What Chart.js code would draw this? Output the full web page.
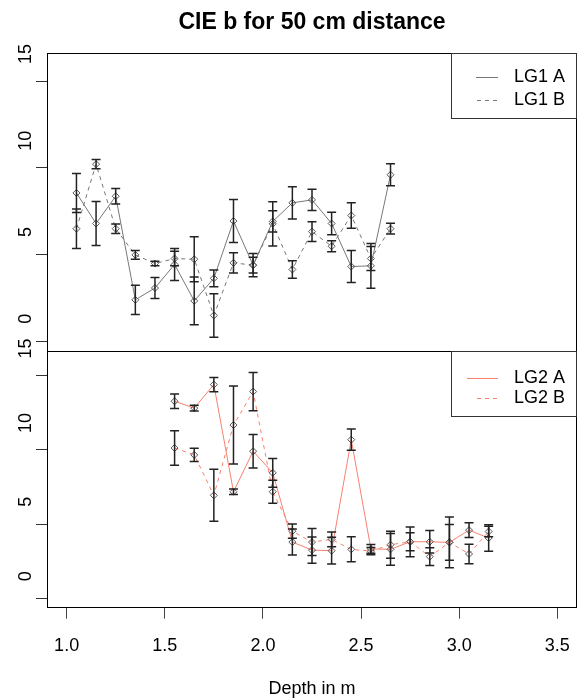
<!DOCTYPE html>
<html>
<head>
<meta charset="utf-8">
<script src="https://cdn.jsdelivr.net/npm/chart.js@4"></script>
<style>
  html, body { margin: 0; padding: 0; background: #fff; }
  #wrap { position: relative; width: 587px; height: 700px; }
  #wrap canvas { position: absolute; left: 0; }
  #top { top: 0; }
  #bottom { top: 330px; }
</style>
</head>
<body>
<div id="wrap">
  <canvas id="top" width="587" height="360"></canvas>
  <canvas id="bottom" width="587" height="370"></canvas>
</div>
<script>
'use strict';

const depthTicks = [1.0, 1.5, 2.0, 2.5, 3.0, 3.5];
const valueTicks = [0, 5, 10, 15];

// LG1 (top panel)
const depthLG1 = [1.05, 1.15, 1.25, 1.35, 1.45, 1.55, 1.65, 1.75, 1.85, 1.95, 2.05, 2.15, 2.25, 2.35, 2.45, 2.55, 2.65];
const lg1A    = [8.55, 6.79, 8.36, 2.39, 3.07, 4.43, 2.33, 3.63, 6.93, 4.39, 6.91, 7.98, 8.15, 6.79, 4.31, 4.35, 9.60];
const lg1AErr = [1.12, 1.27, 0.45, 0.84, 0.61, 0.92, 1.37, 0.48, 1.24, 0.67, 0.61, 0.93, 0.61, 0.65, 0.92, 1.29, 0.64];
const lg1B    = [6.49, 10.21, 6.49, 4.98, 4.48, 4.77, 4.73, 1.49, 4.52, 4.39, 6.77, 4.14, 6.32, 5.48, 7.25, 4.77, 6.49];
const lg1BErr = [1.14, 0.27, 0.27, 0.25, 0.13, 0.42, 1.30, 1.25, 0.58, 0.45, 1.28, 0.50, 0.57, 0.32, 0.74, 0.69, 0.31];

// LG2 (bottom panel)
const depthLG2 = [1.55, 1.65, 1.75, 1.85, 1.95, 2.05, 2.15, 2.25, 2.35, 2.45, 2.55, 2.65, 2.75, 2.85, 2.95, 3.05, 3.15];
const lg2A    = [13.27, 12.81, 14.39, 7.19, 9.91, 8.46, 3.81, 3.27, 3.23, 10.69, 3.35, 3.32, 3.83, 3.83, 3.79, 4.61, 4.08];
const lg2AErr = [0.49, 0.19, 0.48, 0.19, 1.12, 0.97, 0.87, 0.88, 0.90, 0.71, 0.30, 1.07, 1.00, 0.76, 1.70, 0.50, 0.89];
const lg2B    = [10.13, 9.67, 6.95, 11.67, 13.92, 7.19, 4.54, 3.81, 3.99, 3.32, 3.20, 3.63, 3.83, 2.83, 3.79, 3.01, 4.52];
const lg2BErr = [1.16, 0.45, 1.75, 2.62, 1.29, 0.78, 0.48, 0.91, 0.50, 0.84, 0.25, 0.90, 0.60, 0.60, 1.20, 0.65, 0.35];

const FONT = '"Liberation Sans", Arial, sans-serif';
Chart.defaults.font.family = FONT;
Chart.defaults.color = '#000';

function points(xs, ys) {
    return xs.map((x, i) => ({ x: x, y: ys[i] }));
}

function makeDataset(label, xs, ys, errs, color, dashed) {
    return {
        label: label,
        data: points(xs, ys),
        errors: errs,
        borderColor: color,
        borderWidth: 1,
        borderDash: dashed ? [4, 4] : [],
        pointStyle: 'rectRot',
        pointRadius: 3.5,
        pointHoverRadius: 3.5,
        pointBorderColor: '#555',
        pointBackgroundColor: 'rgba(0,0,0,0)',
        pointBorderWidth: 1,
        tension: 0,
        fill: false
    };
}

// error bars, frame, rotated y labels and the legend box
const panelPlugin = {
    id: 'panel',
    afterDatasetsDraw(chart) {
        const { ctx, scales: { x, y } } = chart;
        ctx.save();
        ctx.strokeStyle = '#222';
        ctx.lineWidth = 1.5;
        chart.data.datasets.forEach(ds => {
            ds.data.forEach((p, i) => {
                const e = ds.errors[i];
                const px = x.getPixelForValue(p.x);
                const yt = y.getPixelForValue(p.y + e);
                const yb = y.getPixelForValue(p.y - e);
                ctx.beginPath();
                ctx.moveTo(px, yt); ctx.lineTo(px, yb);
                ctx.moveTo(px - 4.5, yt); ctx.lineTo(px + 4.5, yt);
                ctx.moveTo(px - 4.5, yb); ctx.lineTo(px + 4.5, yb);
                ctx.stroke();
            });
        });
        ctx.restore();
    },
    afterDraw(chart, args, opts) {
        const { ctx, chartArea: a, scales: { y } } = chart;
        ctx.save();

        // frame
        const l = Math.floor(a.left) + 0.5, r = Math.floor(a.right) - 0.5;
        const t = Math.floor(a.top) + 0.5, b = Math.floor(a.bottom) + 0.5;
        ctx.strokeStyle = '#000';
        ctx.lineWidth = 1;
        ctx.setLineDash([]);
        ctx.strokeRect(l, t, r - l, b - t);

        // y tick labels, rotated like R
        ctx.font = '18px ' + FONT;
        ctx.fillStyle = '#000';
        ctx.textAlign = 'center';
        ctx.textBaseline = 'middle';
        y.ticks.forEach(tk => {
            const txt = String(tk.value);
            const py = y.getPixelForValue(tk.value) + (txt.length > 1 ? -27 : -22.5);
            ctx.save();
            ctx.translate(26, py);
            ctx.rotate(-Math.PI / 2);
            ctx.fillText(txt, 0, 0);
            ctx.restore();
        });

        // legend
        const boxL = 451.5;
        ctx.fillStyle = '#fff';
        ctx.fillRect(boxL, t, r - boxL, opts.boxHeight);
        ctx.strokeStyle = '#333';
        ctx.strokeRect(boxL, t, r - boxL, opts.boxHeight);
        ctx.textAlign = 'left';
        ctx.fillStyle = '#000';
        chart.data.datasets.forEach((ds, i) => {
            const ry = Math.round(a.top + opts.rows[i]) + 0.5;
            ctx.beginPath();
            ctx.strokeStyle = ds.borderColor;
            ctx.lineWidth = 1;
            ctx.setLineDash(ds.borderDash);
            ctx.moveTo(opts.lineStart[i], ry);
            ctx.lineTo(498, ry);
            ctx.stroke();
            ctx.setLineDash([]);
            ctx.fillText(ds.label, 514, ry);
        });
        ctx.restore();
    }
};

function xScale(show) {
    return {
        type: 'linear',
        min: 0.9,
        max: 3.6,
        display: show,
        afterBuildTicks: s => { s.ticks = depthTicks.map(v => ({ value: v })); },
        afterFit: s => { s.height = show ? 92.3 : 0; },
        grid: { drawOnChartArea: false, drawTicks: true, tickLength: 11, color: '#444' },
        border: { display: false },
        ticks: { autoSkip: false, maxRotation: 0, padding: 16.5, color: '#000', font: { size: 18 }, callback: v => v.toFixed(1) },
        title: { display: true, text: 'Depth in m', color: '#000', font: { size: 18 }, padding: { top: 0, bottom: 0 } }
    };
}

function yScale() {
    return {
        type: 'linear',
        min: -0.6,
        max: 16.6,
        afterBuildTicks: s => { s.ticks = valueTicks.map(v => ({ value: v })); },
        afterFit: s => { s.width = 47; },
        grid: { drawOnChartArea: false, drawTicks: true, tickLength: 11, color: '#333' },
        border: { display: false },
        ticks: { display: false }
    };
}

new Chart(document.getElementById('top').getContext('2d'), {
    type: 'line',
    data: {
        datasets: [
            makeDataset('LG1 A', depthLG1, lg1A, lg1AErr, '#777', false),
            makeDataset('LG1 B', depthLG1, lg1B, lg1BErr, '#777', true)
        ]
    },
    options: {
        responsive: false,
        animation: false,
        devicePixelRatio: 1,
        layout: { padding: { left: 0, right: 10, top: 0, bottom: 8.3 } },
        scales: { x: xScale(false), y: yScale() },
        plugins: {
            legend: { display: false },
            tooltip: { enabled: false },
            title: {
                display: true,
                text: 'CIE b for 50 cm distance',
                fullSize: false,
                color: '#000',
                font: { size: 23, weight: 'bold' },
                padding: { top: 8.7, bottom: 17 }
            },
            panel: { boxHeight: 65, rows: [23.5, 46.5], lineStart: [476, 477] }
        }
    },
    plugins: [panelPlugin]
});

new Chart(document.getElementById('bottom').getContext('2d'), {
    type: 'line',
    data: {
        datasets: [
            makeDataset('LG2 A', depthLG2, lg2A, lg2AErr, '#F7806E', false),
            makeDataset('LG2 B', depthLG2, lg2B, lg2BErr, '#F7806E', true)
        ]
    },
    options: {
        responsive: false,
        animation: false,
        devicePixelRatio: 1,
        layout: { padding: { left: 0, right: 10, top: 21.7, bottom: 0 } },
        scales: { x: xScale(true), y: yScale() },
        plugins: {
            legend: { display: false },
            tooltip: { enabled: false },
            title: { display: false },
            panel: { boxHeight: 65, rows: [26.5, 46.5], lineStart: [467, 477] }
        }
    },
    plugins: [panelPlugin]
});
</script>
</body>
</html>
